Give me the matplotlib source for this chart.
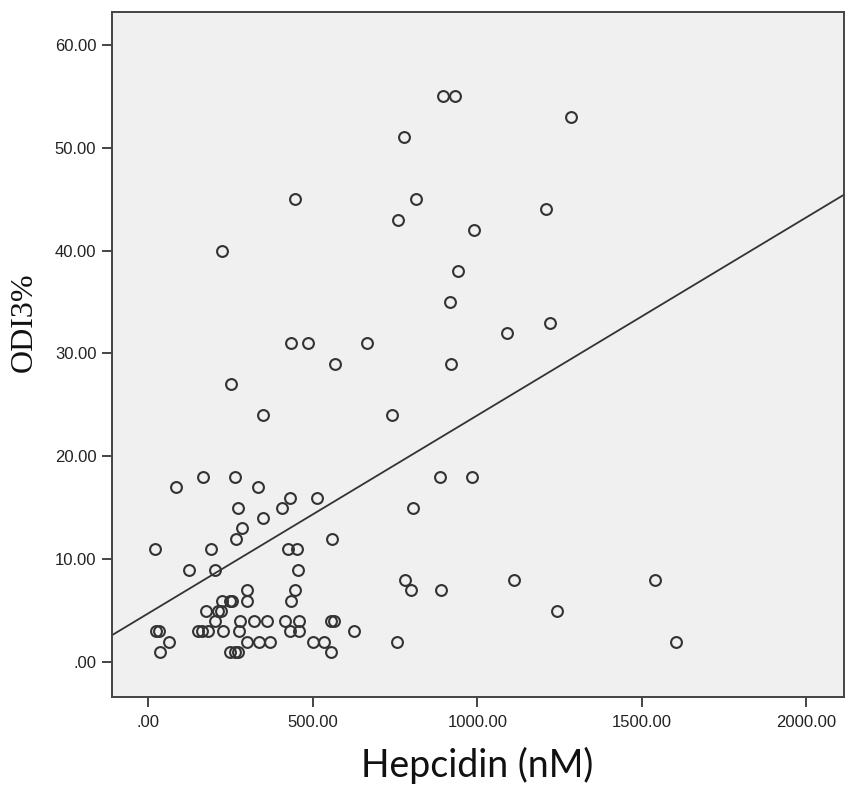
import numpy as np
import matplotlib.pyplot as plt

# Hepcidin (nM) vs ODI3%
hepcidin = [
    897, 933, 1286, 778, 446, 813, 1210, 758, 991, 225, 940, 916, 1221, 1090,
    434, 486, 666, 568, 919, 253, 348, 740,
    166, 263, 886, 984, 84, 334, 431, 512, 272, 405, 806, 348, 284, 266, 557,
    21, 190, 424, 451, 125, 202, 455, 780, 1111, 1541, 301, 447, 797, 890,
    223, 250, 256, 301, 433, 177, 212, 220, 1242,
    203, 279, 322, 360, 415, 457, 554, 564,
    23, 33, 152, 162, 182, 228, 277, 431, 457, 626,
    62, 299, 337, 370, 500, 534, 757, 1604,
    36, 248, 264, 274, 554,
]
odi3 = [
    55, 55, 53, 51, 45, 45, 44, 43, 42, 40, 38, 35, 33, 32,
    31, 31, 31, 29, 29, 27, 24, 24,
    18, 18, 18, 18, 17, 17, 16, 16, 15, 15, 15, 14, 13, 12, 12,
    11, 11, 11, 11, 9, 9, 9, 8, 8, 8, 7, 7, 7, 7,
    6, 6, 6, 6, 6, 5, 5, 5, 5,
    4, 4, 4, 4, 4, 4, 4, 4,
    3, 3, 3, 3, 3, 3, 3, 3, 3, 3,
    2, 2, 2, 2, 2, 2, 2, 2,
    1, 1, 1, 1, 1,
]

# fit line as drawn in the chart
fit_intercept, fit_slope = 4.75, 0.01924

x_ticks = [0, 500, 1000, 1500, 2000]
y_ticks = [0, 10, 20, 30, 40, 50, 60]
x_lim = (-109, 2115)
y_lim = (-3.34, 63.2)


def fmt(v):
    s = '%.2f' % v
    return s[1:] if s.startswith('0') else s


fig = plt.figure(figsize=(8.49, 7.90), dpi=100)
ax = fig.add_axes([0.1323, 0.1181, 0.8622, 0.8671])
ax.set_facecolor('#f0f0f0')

ax.plot(hepcidin, odi3, linestyle='none', marker='o', markersize=7.8,
        markerfacecolor='none', markeredgecolor='#333333', markeredgewidth=1.5)

xs = np.array(x_lim)
ax.plot(xs, fit_intercept + fit_slope * xs, color='#333333', lw=1.3)

ax.set_xlim(*x_lim)
ax.set_ylim(*y_lim)
ax.set_xticks(x_ticks)
ax.set_yticks(y_ticks)
ax.set_xticklabels([fmt(v) for v in x_ticks])
ax.set_yticklabels([fmt(v) for v in y_ticks])

for sp in ax.spines.values():
    sp.set_color('#444444')
    sp.set_linewidth(1.4)

ax.tick_params(axis='both', direction='out', length=7.5, width=1.4, color='#444444',
               labelsize=12, labelcolor='#222222')
ax.tick_params(axis='x', pad=6)
ax.tick_params(axis='y', pad=4)
for lab in ax.get_xticklabels() + ax.get_yticklabels():
    lab.set_family('Liberation Sans')

fig.text(477 / 849, 1 - 765 / 790, 'Hepcidin (nM)', ha='center', va='center',
         fontsize=27, family='Lato', color='#111111')
fig.text(24 / 849, 1 - 322 / 790, 'ODI3%', ha='center', va='center', rotation=90,
         fontsize=23, family='Liberation Serif', color='#111111')

fig.savefig('out.png', dpi=100)
